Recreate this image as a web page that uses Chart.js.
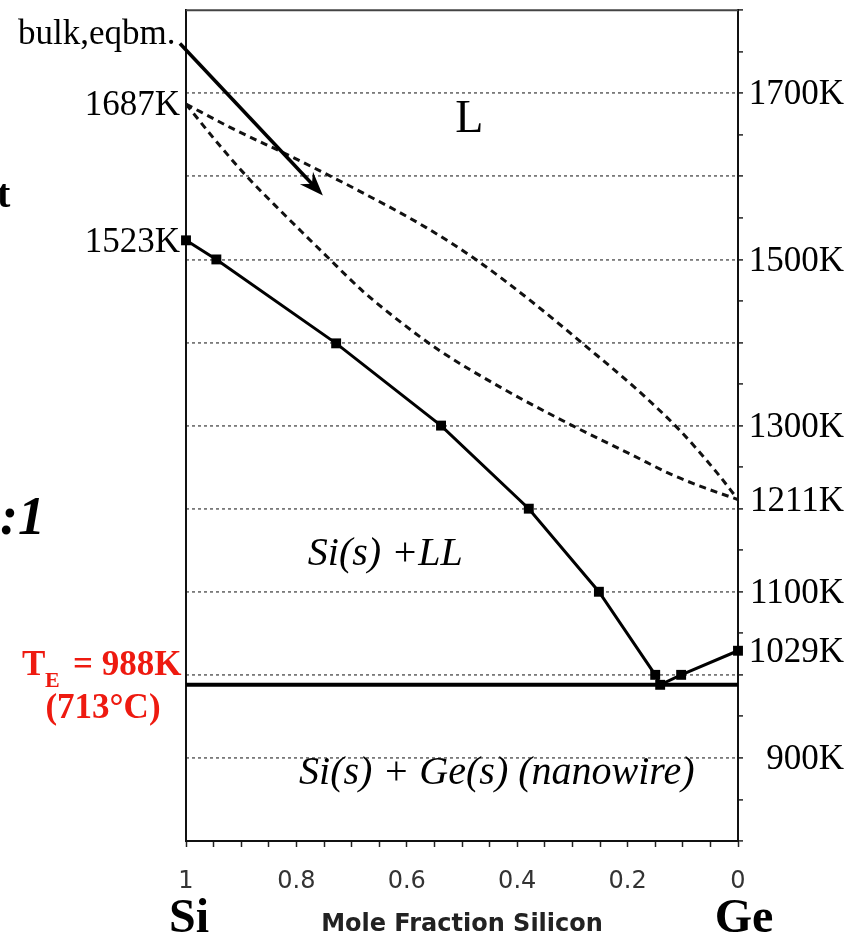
<!DOCTYPE html>
<html><head><meta charset="utf-8">
<script src="https://cdn.jsdelivr.net/npm/chart.js@4.4.1/dist/chart.umd.min.js"></script>
<style>html,body{margin:0;padding:0;background:#fff;}#wrap{width:850px;height:939px;}</style>
</head><body><div id="wrap"><canvas id="c" width="850" height="939"></canvas></div>
<script>
// Nanowire liquidus (solid line with square markers)
const nanoX = [1, 0.945, 0.728, 0.538, 0.379, 0.252, 0.150, 0.141, 0.103, 0];
const nanoT = [1523, 1500, 1399, 1300, 1200, 1100, 1000, 988, 1000, 1029];
// Bulk equilibrium liquidus (upper dashed)
const liqX = [1, 0.92, 0.81, 0.685, 0.564, 0.473, 0.377, 0.28, 0.184, 0.105, 0.039, 0];
const liqT = [1687, 1659, 1624, 1582, 1538, 1499, 1451, 1398, 1344, 1294, 1244, 1211];
// Bulk equilibrium solidus (lower dashed)
const solX = [1, 0.94, 0.89, 0.84, 0.79, 0.75, 0.68, 0.61, 0.54, 0.43, 0.30, 0.19, 0.12, 0.06, 0];
const solT = [1687, 1638, 1600, 1566, 1533, 1507, 1462, 1424, 1390, 1346, 1300, 1264, 1241, 1225, 1211];
// Eutectic
const eutecticX = [1, 0];
const eutecticT = [988, 988];
// Axis labels
const xTickValues = [1, 0.8, 0.6, 0.4, 0.2, 0];
const xTickLabels = ['1', '0.8', '0.6', '0.4', '0.2', '0'];
const rightLabelValues = [1700, 1500, 1300, 1211, 1100, 1029, 900];
const leftLabelValues = [1687, 1523];
const gridValues = [900, 1000, 1100, 1200, 1300, 1400, 1500, 1600, 1700];
// Annotation anchors (data coordinates)
const arrowFrom = {x: 1.011, y: 1760};
const arrowTo = {x: 0.752, y: 1577};
const regionL = {x: 0.487, y: 1668, text: 'L'};
const regionSiLL = {x: 0.639, y: 1145, text: 'Si(s) +LL'};
const regionSolid = {x: 0.437, y: 881, text: 'Si(s) + Ge(s) (nanowire)'};

const pts = (xs, ys) => xs.map((x, i) => ({x: x, y: ys[i]}));
const SERIF = '"Liberation Serif", "Times New Roman", serif';
const SANS = '"DejaVu Sans", Verdana, sans-serif';

const annot = {
  id: 'annot',
  afterDraw(chart) {
    const ctx = chart.ctx, xs = chart.scales.x, ys = chart.scales.y, ca = chart.chartArea;
    ctx.save();
    // top border
    ctx.strokeStyle = '#444'; ctx.lineWidth = 2;
    ctx.beginPath(); ctx.moveTo(ca.left, ca.top); ctx.lineTo(ca.right, ca.top); ctx.stroke();

    ctx.fillStyle = '#000';
    ctx.textBaseline = 'middle';
    ctx.font = '35px ' + SERIF;
    ctx.textAlign = 'right';
    rightLabelValues.forEach(v => ctx.fillText(v + 'K', 844, ys.getPixelForValue(v) + 2));
    leftLabelValues.forEach(v => ctx.fillText(v + 'K', ca.left - 6, ys.getPixelForValue(v) + 2));

    // region labels
    ctx.textAlign = 'center';
    ctx.font = '46px ' + SERIF;
    ctx.fillText(regionL.text, xs.getPixelForValue(regionL.x), ys.getPixelForValue(regionL.y));
    ctx.font = 'italic 40px ' + SERIF;
    ctx.fillText(regionSiLL.text, xs.getPixelForValue(regionSiLL.x), ys.getPixelForValue(regionSiLL.y));
    ctx.fillText(regionSolid.text, xs.getPixelForValue(regionSolid.x), ys.getPixelForValue(regionSolid.y));

    // bulk,eqbm label + arrow
    ctx.textBaseline = 'alphabetic';
    ctx.textAlign = 'left';
    ctx.font = '35px ' + SERIF;
    ctx.fillText('bulk,eqbm.', 18, 44);
    const ax1 = xs.getPixelForValue(arrowFrom.x), ay1 = ys.getPixelForValue(arrowFrom.y);
    const ax2 = xs.getPixelForValue(arrowTo.x), ay2 = ys.getPixelForValue(arrowTo.y);
    const L = Math.hypot(ax2 - ax1, ay2 - ay1), dx = (ax2 - ax1) / L, dy = (ay2 - ay1) / L;
    const px = -dy, py = dx;
    ctx.strokeStyle = '#000'; ctx.lineWidth = 3.5;
    ctx.beginPath(); ctx.moveTo(ax1, ay1); ctx.lineTo(ax2 - dx * 14, ay2 - dy * 14); ctx.stroke();
    ctx.beginPath();
    ctx.moveTo(ax2, ay2);
    ctx.lineTo(ax2 - dx * 24 + px * 9, ay2 - dy * 24 + py * 9);
    ctx.lineTo(ax2 - dx * 16, ay2 - dy * 16);
    ctx.lineTo(ax2 - dx * 24 - px * 9, ay2 - dy * 24 - py * 9);
    ctx.closePath(); ctx.fill();

    // eutectic red label
    ctx.fillStyle = '#ee1a10';
    ctx.font = 'bold 35px ' + SERIF;
    ctx.fillText('T', 22, 675);
    ctx.font = 'bold 22px ' + SERIF;
    ctx.fillText('E', 45, 687);
    ctx.font = 'bold 35px ' + SERIF;
    ctx.fillText('= 988K', 73, 675);
    ctx.textAlign = 'center';
    ctx.fillText('(713\u00B0C)', 103, 718);

    // Si / Ge
    ctx.fillStyle = '#000';
    ctx.font = 'bold 48px ' + SERIF;
    ctx.fillText('Si', 189, 932);
    ctx.fillText('Ge', 744, 932);

    // cut-off slide fragments at left edge
    ctx.textAlign = 'left';
    ctx.font = 'bold 40px ' + SERIF;
    ctx.fillText('t', -3, 207);
    ctx.textAlign = 'right';
    ctx.font = 'bold italic 54px ' + SERIF;
    ctx.fillText('0:1', 45, 534);
    ctx.restore();
  }
};

new Chart(document.getElementById('c'), {
  type: 'scatter',
  data: {
    datasets: [
      {data: pts(eutecticX, eutecticT), showLine: true, borderColor: '#000', borderWidth: 4, pointRadius: 0},
      {data: pts(liqX, liqT), showLine: true, borderColor: '#111', borderWidth: 3, borderDash: [7, 5],
       cubicInterpolationMode: 'monotone', pointRadius: 0},
      {data: pts(solX, solT), showLine: true, borderColor: '#111', borderWidth: 3, borderDash: [7, 5],
       cubicInterpolationMode: 'monotone', pointRadius: 0},
      {data: pts(nanoX, nanoT), showLine: true, borderColor: '#000', borderWidth: 3, pointStyle: 'rect',
       pointRadius: 7, pointBackgroundColor: '#000', pointBorderColor: '#000', pointBorderWidth: 0, clip: false}
    ]
  },
  options: {
    responsive: false, animation: false, devicePixelRatio: 1,
    layout: {padding: {left: 186, top: 7, right: 0, bottom: 0}},
    plugins: {legend: {display: false}, tooltip: {enabled: false}},
    scales: {
      x: {
        type: 'linear', reverse: true, min: 0, max: 1, position: 'bottom',
        afterFit: s => { s.height = 98; },
        ticks: {
          stepSize: 0.05, autoSkip: false, maxRotation: 0, padding: 20,
          color: '#333', font: {family: SANS, size: 24},
          callback: v => { const i = xTickValues.findIndex(t => Math.abs(t - v) < 1e-6); return i >= 0 ? xTickLabels[i] : ''; }
        },
        grid: {drawOnChartArea: false, tickLength: 6, tickColor: '#222', tickWidth: 1.5},
        border: {display: true, color: '#111', width: 2},
        title: {display: true, text: 'Mole Fraction Silicon', color: '#222',
                font: {family: SANS, size: 24, weight: 'bold'}, padding: {top: 0, bottom: 0}}
      },
      y: {
        type: 'linear', position: 'right', min: 800, max: 1800,
        afterFit: s => { s.width = 112; },
        ticks: {stepSize: 50, autoSkip: false, callback: () => ''},
        grid: {
          drawOnChartArea: true, lineWidth: 1.8,
          color: c => (c.tick && gridValues.includes(Math.round(c.tick.value))) ? '#7a7a7a' : 'rgba(0,0,0,0)',
          tickLength: 5, tickColor: '#222', tickWidth: 1.5
        },
        border: {display: true, color: '#111', width: 2, dash: [3, 3]}
      },
      yLeft: {
        type: 'linear', position: 'left', min: 800, max: 1800,
        afterFit: s => { s.width = 0; },
        ticks: {display: false},
        grid: {drawOnChartArea: false, drawTicks: false},
        border: {display: true, color: '#111', width: 2}
      }
    }
  },
  plugins: [annot]
});
</script>
</body></html>
